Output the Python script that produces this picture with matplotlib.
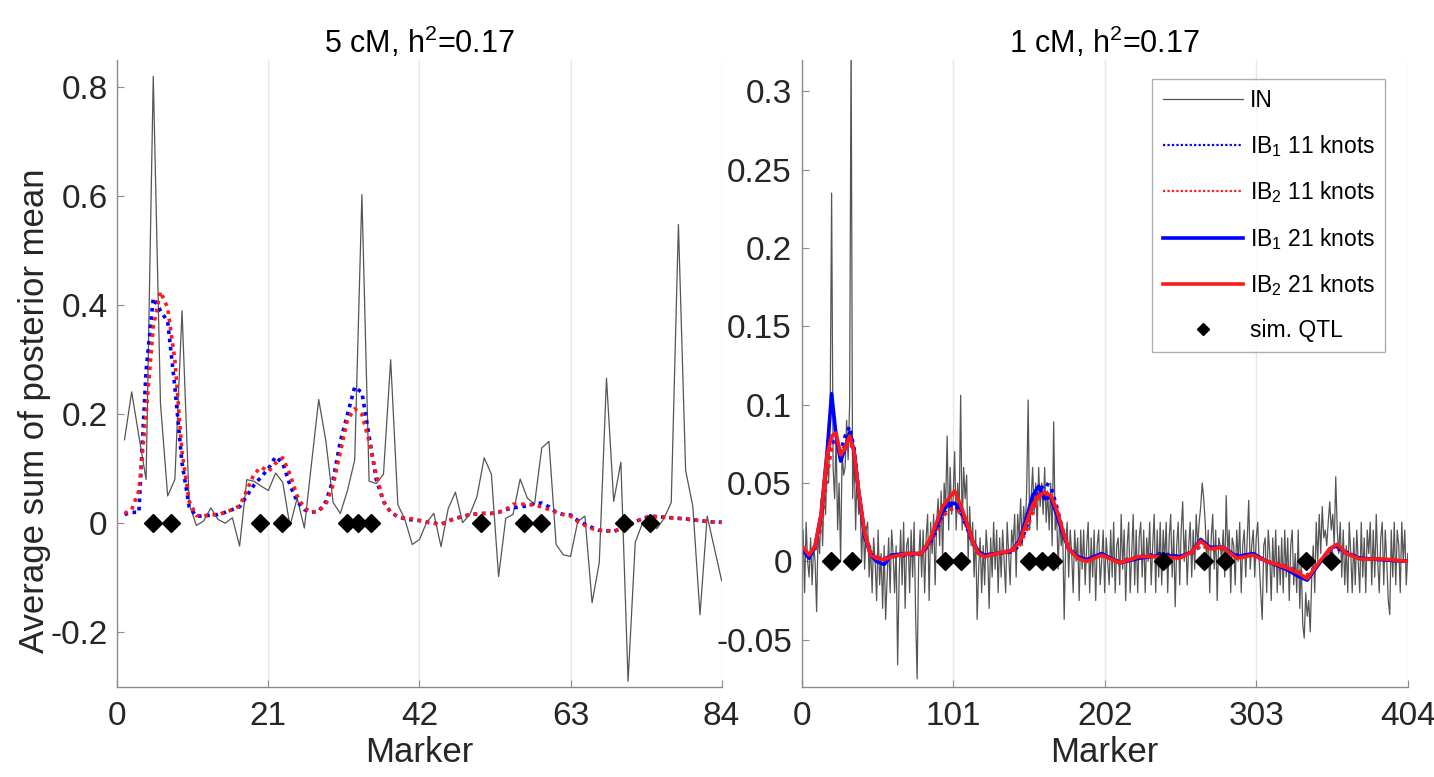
import matplotlib
matplotlib.use('Agg')
import matplotlib.pyplot as plt
from matplotlib.ticker import FormatStrFormatter
import numpy as np

plt.rcParams['font.family'] = ['Liberation Sans', 'DejaVu Sans']
plt.rcParams['mathtext.fontset'] = 'custom'
plt.rcParams['mathtext.rm'] = 'Liberation Sans'
plt.rcParams['mathtext.default'] = 'regular'

# ---- left panel: 5 cM, 84 markers ----
in_5cm = [0.153, 0.241, 0.16, 0.08, 0.82, 0.22, 0.05, 0.08, 0.39, 0.034,
          -0.004, 0.004, 0.028, 0.007, 0.0, 0.01, -0.042, 0.08, 0.077, 0.068,
          0.06, 0.092, 0.075, -0.005, 0.046, -0.009, 0.11, 0.227, 0.15, 0.038,
          0.018, 0.06, 0.116, 0.603, 0.077, 0.073, 0.09, 0.30, 0.034, 0.006,
          -0.039, -0.03, 0.0015, 0.018, -0.043, 0.027, 0.057, 0.001, 0.016, 0.049,
          0.12, 0.09, -0.098, 0.009, 0.016, 0.081, 0.046, 0.035, 0.138, 0.15,
          -0.039, -0.058, -0.061, 0.003, 0.013, -0.146, -0.072, 0.266, 0.04, 0.112,
          -0.29, -0.035, 0.0, 0.005, -0.01, 0.009, 0.038, 0.548, 0.097, 0.031,
          -0.168, 0.013, -0.046, -0.105]
ib1_11_5cm = [0.016, 0.02, 0.02, 0.28, 0.413, 0.39, 0.37, 0.25, 0.11, 0.03,
              0.013, 0.013, 0.015, 0.016, 0.02, 0.025, 0.03, 0.05, 0.07, 0.085,
              0.1, 0.122, 0.11, 0.07, 0.04, 0.025, 0.02, 0.022, 0.04, 0.08,
              0.15, 0.2, 0.25, 0.24, 0.16, 0.08, 0.04, 0.02, 0.012, 0.008,
              0.006, 0.005, 0.002, 0.0, -0.002, 0.004, 0.009, 0.012, 0.016, 0.017,
              0.018, 0.018, 0.02, 0.025, 0.028, 0.03, 0.032, 0.036, 0.037, 0.03,
              0.02, 0.016, 0.015, 0.005, -0.002, -0.008, -0.013, -0.014, -0.015, -0.01,
              -0.006, 0.003, 0.008, 0.013, 0.012, 0.011, 0.01, 0.009, 0.008, 0.006,
              0.005, 0.003, 0.002, 0.002]
ib2_11_5cm = [0.018, 0.025, 0.06, 0.2, 0.36, 0.425, 0.395, 0.3, 0.13, 0.04,
              0.014, 0.014, 0.015, 0.016, 0.02, 0.025, 0.032, 0.06, 0.09, 0.103,
              0.095, 0.11, 0.12, 0.09, 0.05, 0.028, 0.02, 0.022, 0.035, 0.07,
              0.13, 0.19, 0.21, 0.2, 0.15, 0.09, 0.04, 0.02, 0.012, 0.009,
              0.008, 0.005, 0.002, 0.0, -0.002, 0.004, 0.009, 0.012, 0.016, 0.017,
              0.018, 0.018, 0.02, 0.025, 0.035, 0.035, 0.035, 0.033, 0.03, 0.025,
              0.02, 0.016, 0.013, 0.003, -0.004, -0.01, -0.013, -0.014, -0.015, -0.01,
              -0.006, 0.003, 0.008, 0.013, 0.012, 0.011, 0.01, 0.009, 0.008, 0.006,
              0.005, 0.003, 0.002, 0.0015]
qtl_5cm = [4.9, 7.5, 19.9, 22.9, 31.9, 33.5, 35.3, 50.5, 56.6, 58.9, 70.5, 74.1]

# ---- right panel: 1 cM, 404 markers ----
in_1cm = [
    0.02, -0.02, 0.025, 0.0, -0.01, 0.015, -0.015, 0.01, 0.0, -0.032,
    0.02, 0.005, 0.04, 0.01, 0.05, 0.03, 0.07, 0.05, 0.09, 0.235,
    0.06, 0.04, 0.08, 0.02, 0.05, 0.0, 0.07, 0.055, 0.06, 0.09,
    0.065, 0.1, 0.335, 0.04, 0.07, 0.02, 0.06, 0.03, 0.04, 0.0,
    0.03, -0.005, 0.02, 0.025, -0.01, 0.01, -0.02, 0.015, 0.0, -0.025,
    0.02, -0.015, 0.005, -0.03, 0.01, -0.037, -0.01, 0.015, -0.02, 0.02,
    0.005, -0.02, 0.01, -0.066, -0.01, 0.02, -0.015, 0.025, -0.03, 0.01,
    0.015, -0.02, 0.02, -0.01, 0.025, -0.035, -0.075, 0.0, 0.02, -0.01,
    0.02, -0.02, 0.015, 0.03, -0.025, 0.025, 0.005, 0.03, -0.015, 0.025,
    0.04, 0.01, 0.045, 0.0, 0.05, 0.035, 0.08, 0.02, 0.06, 0.03,
    0.04, 0.07, 0.02, 0.05, 0.03, 0.106, 0.02, 0.06, 0.04, 0.055,
    0.0, 0.035, 0.01, 0.025, -0.01, 0.02, -0.037, -0.005, 0.015, -0.02,
    0.01, -0.015, 0.02, 0.005, -0.03, 0.015, -0.01, 0.025, -0.005, 0.02,
    -0.02, 0.015, -0.01, 0.02, 0.0, -0.02, 0.025, 0.005, -0.015, 0.02,
    0.01, 0.03, -0.01, 0.03, 0.015, 0.04, 0.01, 0.035, 0.02, 0.045,
    0.103, 0.02, 0.04, 0.06, 0.03, 0.05, 0.02, 0.06, 0.035, 0.05,
    0.03, 0.06, 0.025, 0.045, 0.02, 0.05, 0.01, 0.089, 0.02, 0.03,
    -0.005, 0.03, 0.01, 0.02, -0.037, 0.01, 0.025, -0.01, 0.02, 0.005,
    -0.02, 0.02, 0.0, 0.015, -0.025, 0.02, -0.005, 0.02, -0.015, 0.01,
    0.025, -0.02, 0.015, -0.01, 0.02, -0.025, 0.01, 0.02, -0.015, 0.0,
    0.02, -0.02, 0.015, 0.0, -0.015, 0.02, -0.01, 0.025, -0.02, 0.01,
    0.015, -0.015, 0.03, -0.005, 0.02, -0.025, 0.01, 0.025, -0.02, 0.005,
    0.03, -0.015, 0.02, -0.02, 0.015, 0.025, -0.01, 0.02, -0.02, 0.015,
    0.0, 0.025, -0.015, 0.01, 0.03, -0.02, 0.02, -0.01, 0.025, -0.015,
    0.02, 0.0, 0.025, -0.02, 0.015, 0.03, -0.01, 0.02, -0.029, 0.01,
    0.025, -0.015, 0.02, 0.038, 0.0, 0.02, -0.015, 0.01, 0.025, -0.01,
    0.02, -0.005, 0.03, 0.01, 0.025, 0.035, 0.05, 0.04, 0.025, 0.0,
    0.02, -0.02, 0.015, 0.03, -0.005, 0.02, -0.025, 0.015, 0.01, 0.0,
    0.02, -0.01, 0.042, 0.005, 0.02, -0.02, 0.015, 0.01, -0.015, 0.02,
    0.0, 0.025, -0.02, 0.01, 0.02, -0.01, 0.015, 0.039, -0.005, 0.01,
    0.02, -0.01, 0.015, 0.025, 0.0, -0.02, -0.037, 0.01, 0.015, -0.02,
    0.02, 0.005, -0.025, 0.015, -0.01, 0.02, -0.02, 0.01, -0.015, 0.015,
    -0.02, 0.02, -0.01, 0.015, -0.025, 0.01, 0.02, -0.015, 0.005, -0.02,
    0.02, -0.03, 0.0, -0.04, -0.049, -0.02, -0.035, -0.025, -0.045, -0.01,
    0.01, -0.02, 0.025, 0.0, 0.03, 0.005, 0.035, 0.015, 0.02, 0.01,
    0.025, 0.038, 0.02, 0.03, 0.01, 0.054, 0.02, 0.005, 0.025, -0.01,
    0.02, -0.015, 0.01, -0.02, 0.025, 0.005, -0.02, 0.015, -0.015, 0.02,
    0.0, -0.02, 0.025, -0.01, 0.015, -0.02, 0.02, 0.005, 0.025, -0.015,
    0.02, -0.01, 0.03, 0.0, -0.02, 0.015, 0.025, -0.015, 0.02, 0.0,
    -0.025, -0.034, 0.02, -0.01, 0.025, -0.015, 0.02, 0.01, -0.02, 0.025,
    0.0, 0.02, -0.015, 0.005]

# smooth curves read at these markers
knots_x = [1, 5, 9, 13, 17, 20, 23, 26, 29, 32, 35, 38, 42, 46, 50, 55, 60, 70, 80, 86,
           90, 94, 98, 102, 106, 110, 114, 118, 122, 130, 140, 145, 150, 154, 158, 162, 166, 170, 174, 178,
           184, 190, 200, 212, 225, 240, 252, 260, 266, 272, 281, 290, 301, 310, 323, 332, 337, 343, 352, 357,
           363, 372, 388, 404]
ib1_11_1cm = [0.008, 0.004, 0.008, 0.025, 0.06, 0.075, 0.078, 0.07, 0.08, 0.086, 0.072, 0.045, 0.018, 0.005, 0.002, 0.002, 0.003, 0.004, 0.005, 0.012,
              0.02, 0.03, 0.035, 0.036, 0.032, 0.022, 0.012, 0.005, 0.003, 0.005, 0.006, 0.01, 0.022, 0.036, 0.044, 0.05, 0.048, 0.035, 0.02, 0.008,
              0.002, 0.001, 0.004, 0.0, 0.003, 0.005, 0.003, 0.005, 0.01, 0.009, 0.008, 0.004, 0.004, 0.0, -0.003, -0.007, -0.009, -0.003, 0.006, 0.008,
              0.006, 0.002, 0.001, 0.0]
ib2_11_1cm = [0.008, 0.004, 0.008, 0.022, 0.055, 0.072, 0.076, 0.07, 0.074, 0.078, 0.068, 0.045, 0.019, 0.006, 0.003, 0.002, 0.003, 0.004, 0.005, 0.012,
              0.02, 0.028, 0.033, 0.034, 0.031, 0.022, 0.012, 0.006, 0.004, 0.005, 0.006, 0.01, 0.02, 0.032, 0.04, 0.043, 0.042, 0.033, 0.02, 0.009,
              0.003, 0.001, 0.004, 0.0, 0.003, 0.004, 0.003, 0.005, 0.01, 0.008, 0.008, 0.003, 0.004, 0.0, -0.003, -0.007, -0.009, -0.003, 0.006, 0.009,
              0.006, 0.002, 0.001, 0.0]
ib1_21_1cm = [0.007, 0.002, 0.01, 0.03, 0.07, 0.107, 0.08, 0.064, 0.072, 0.082, 0.07, 0.044, 0.016, 0.004, 0.0, -0.002, 0.004, 0.005, 0.005, 0.014,
              0.023, 0.032, 0.037, 0.037, 0.034, 0.024, 0.013, 0.006, 0.004, 0.005, 0.007, 0.013, 0.028, 0.042, 0.048, 0.04, 0.041, 0.03, 0.018, 0.008,
              0.003, 0.001, 0.005, -0.001, 0.002, 0.004, 0.003, 0.006, 0.014, 0.009, 0.009, 0.003, 0.005, 0.0, -0.005, -0.01, -0.012, -0.004, 0.008, 0.01,
              0.005, 0.002, 0.001, 0.0]
ib2_21_1cm = [0.009, 0.004, 0.01, 0.03, 0.068, 0.08, 0.082, 0.068, 0.072, 0.08, 0.07, 0.045, 0.018, 0.004, 0.002, 0.001, 0.003, 0.005, 0.005, 0.015,
              0.025, 0.035, 0.04, 0.045, 0.036, 0.025, 0.013, 0.005, 0.003, 0.005, 0.007, 0.012, 0.025, 0.036, 0.042, 0.044, 0.042, 0.033, 0.02, 0.008,
              0.002, 0.0, 0.004, -0.001, 0.003, 0.003, 0.002, 0.006, 0.013, 0.008, 0.009, 0.002, 0.004, 0.0, -0.004, -0.008, -0.011, -0.003, 0.008, 0.011,
              0.005, 0.0015, 0.0015, 0.0]
qtl_1cm = [19.8, 33.5, 95.5, 106.4, 151.5, 160.4, 167.3, 241, 268.4, 282.4, 336.2, 353.1]

GRAY = '#555555'
BLUE = '#0000ff'
RED = '#ff1a1a'

fig = plt.figure(figsize=(14.34, 7.77), dpi=100)
ax1 = fig.add_axes([0.0818, 0.1162, 0.4214, 0.8066])
ax2 = fig.add_axes([0.559, 0.1162, 0.4227, 0.8066])


def style_axis(ax):
  for s in ['top', 'right']:
    ax.spines[s].set_visible(False)
  for s in ['left', 'bottom']:
    ax.spines[s].set_color('#8c8c8c')
    ax.spines[s].set_linewidth(1.0)
  ax.tick_params(direction='in', length=5, color='#8c8c8c', labelsize=24,
                 labelcolor='#262626', pad=7)
  ax.tick_params(axis='x', pad=10)
  ax.grid(axis='x', color='#e8e8e8', linewidth=1.0)
  ax.set_axisbelow(True)
  ax.set_xlabel('Marker', fontsize=25, color='#262626', labelpad=3)


m5 = np.arange(1, len(in_5cm) + 1)
ax1.plot(m5, in_5cm, color=GRAY, lw=0.9)
ax1.plot(m5, ib1_11_5cm, color=BLUE, lw=2.6, ls=(0, (1, 1.3)))
ax1.plot(m5, ib2_11_5cm, color=RED, lw=2.6, ls=(0, (1, 1.3)))
ax1.plot(qtl_5cm, np.zeros(len(qtl_5cm)), 'kD', ms=9, ls='none')
ax1.set_xlim(0, 84)
ax1.set_ylim(-0.3, 0.85)
ax1.set_xticks([0, 21, 42, 63, 84])
ax1.set_yticks([-0.2, 0, 0.2, 0.4, 0.6, 0.8])
ax1.yaxis.set_major_formatter(FormatStrFormatter('%g'))
ax1.set_title('5 cM, h$^2$=0.17', fontsize=22, pad=3)
ax1.set_ylabel('Average sum of posterior mean', fontsize=25, color='#262626')
ax1.yaxis.set_label_coords(-0.11, 0.44)
style_axis(ax1)

m1 = np.arange(1, len(in_1cm) + 1)
ax2.plot(m1, in_1cm, color=GRAY, lw=0.9, label='IN')
ax2.plot(knots_x, ib1_11_1cm, color=BLUE, lw=2.6, ls=(0, (1, 1.3)), label='IB$_1$ 11 knots')
ax2.plot(knots_x, ib2_11_1cm, color=RED, lw=2.6, ls=(0, (1, 1.3)), label='IB$_2$ 11 knots')
ax2.plot(knots_x, ib1_21_1cm, color=BLUE, lw=2.6, label='IB$_1$ 21 knots')
ax2.plot(knots_x, ib2_21_1cm, color=RED, lw=2.6, label='IB$_2$ 21 knots')
ax2.plot(qtl_1cm, np.zeros(len(qtl_1cm)), 'kD', ms=9, ls='none', label='sim. QTL')
ax2.set_xlim(0, 404)
ax2.set_ylim(-0.08, 0.32)
ax2.set_xticks([0, 101, 202, 303, 404])
ax2.set_yticks([-0.05, 0, 0.05, 0.1, 0.15, 0.2, 0.25, 0.3])
ax2.yaxis.set_major_formatter(FormatStrFormatter('%g'))
ax2.set_title('1 cM, h$^2$=0.17', fontsize=22, pad=3)
style_axis(ax2)

h, l = ax2.get_legend_handles_labels()
h[-1] = plt.Line2D([], [], color='k', marker='D', ms=6, ls='none')
h[1] = plt.Line2D([], [], color=BLUE, lw=1.6, ls=(0, (1, 1)))
h[2] = plt.Line2D([], [], color=RED, lw=1.6, ls=(0, (1, 1)))
leg = ax2.legend(h, l, loc='upper right', fontsize=16.5, frameon=True, fancybox=False,
                 edgecolor='#9a9a9a', handlelength=3.5, labelspacing=0.9,
                 borderpad=0.45, handletextpad=0.3, borderaxespad=0,
                 bbox_to_anchor=(0.963, 0.97))
leg.get_frame().set_linewidth(1.0)

fig.savefig('out.png', dpi=100)
